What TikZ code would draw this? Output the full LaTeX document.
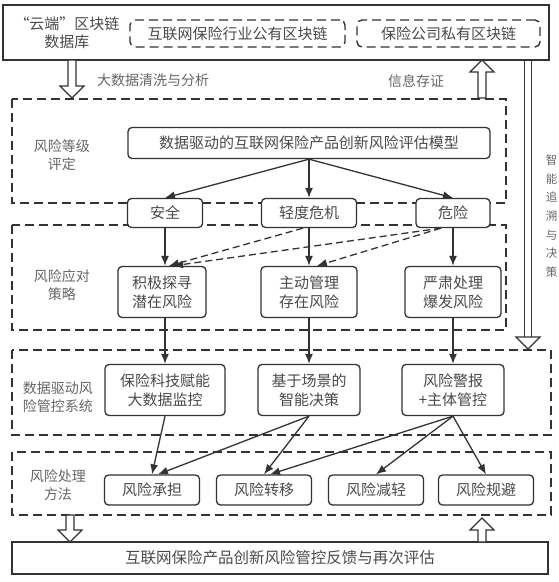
\documentclass[tikz,border=0pt]{standalone}
\usepackage{fontspec}
\newfontfamily\cjk{Noto Sans CJK SC}
\usetikzlibrary{arrows.meta,calc}
\definecolor{ln}{HTML}{333333}
\definecolor{tx}{HTML}{4A4A4A}
\definecolor{lb}{HTML}{666666}
\tikzset{
  box/.style={draw=ln,fill=white,line width=1.3pt,rounded corners=4pt,align=center,text=tx,font=\cjk\fontsize{15}{19}\selectfont,inner sep=0pt},
  dbox/.style={draw=ln,line width=1.4pt,dash pattern=on 9pt off 5pt},
  dnode/.style={draw=ln,fill=white,line width=1.4pt,dash pattern=on 9pt off 5pt,rounded corners=5pt,text=tx,font=\cjk\fontsize{15}{19}\selectfont,inner sep=0pt},
  lab/.style={align=center,text=lb,font=\cjk\fontsize{14}{18}\selectfont,inner sep=0pt},
  arr/.style={draw=ln,line width=1.3pt,-{Latex[length=10pt,width=8pt]}},
  darr/.style={draw=ln,line width=1.3pt,dash pattern=on 7pt off 4pt,-{Latex[length=10pt,width=8pt]}},
  hol/.style={draw=ln,line width=1.2pt,fill=white,line join=miter},
}
\begin{document}
\begin{tikzpicture}[x=1pt,y=-1pt]
\useasboundingbox (0,0) rectangle (559,582);
\clip (0,0) rectangle (559,582);
% top box
\draw[ln,line width=1.3pt] (3,5) rectangle (549,60);
\node[lab,text=tx,font=\cjk\fontsize{15}{18}\selectfont] (cloud) at (67,33) {“云端”区块链\\数据库};
\node[dnode,minimum width=215pt,minimum height=27pt] (pub) at (237.5,33.5) {互联网保险行业公有区块链};
\node[dnode,minimum width=183pt,minimum height=27pt] (pri) at (448.5,33.5) {保险公司私有区块链};
% hollow arrows top
\draw[hol] (68,60) -- (76,60) -- (76,86) -- (84,86) -- (72,98) -- (60,86) -- (68,86) -- cycle;
\node[lab,anchor=west] (clean) at (97,80) {大数据清洗与分析};
\draw[hol] (478,98) -- (486,98) -- (486,72) -- (494,72) -- (482,60) -- (470,72) -- (478,72) -- cycle;
\node[lab] (store) at (416,81) {信息存证};
% double arrow right
\draw[ln,line width=1.2pt] (524.5,60) -- (524.5,337) (531.5,60) -- (531.5,337);
\draw[hol] (516,337) -- (540,337) -- (528,349) -- cycle;
\foreach \c [count=\i] in {智,能,追,溯,与,决,策}
  \node[lab,font=\cjk\fontsize{11.5}{12}\selectfont] (v\i) at (551.5,{160+18.7*(\i-1)}) {\c};
% dashed frames
\draw[dbox] (12,99) rectangle (506,203);
\draw[dbox] (12,225) rectangle (506,330);
\draw[dbox] (12,350) rectangle (551,435);
\draw[dbox] (12,452) rectangle (551,515);
\node[lab] (la) at (62,155) {风险等级\\评定};
\node[lab] (lb) at (62,285) {风险应对\\策略};
\node[lab] (lc) at (58,397) {数据驱动风\\险管控系统};
\node[lab] (ld) at (58,485) {风险处理\\方法};
% nodes
\node[box,minimum width=362pt,minimum height=31pt] (m) at (309,143) {数据驱动的互联网保险产品创新风险评估模型};
\node[box,minimum width=75pt,minimum height=29pt] (l1) at (165,213) {安全};
\node[box,minimum width=95pt,minimum height=29pt] (l2) at (309,213) {轻度危机};
\node[box,minimum width=74pt,minimum height=29pt] (l3) at (453,213) {危险};
\node[box,minimum width=88pt,minimum height=51pt] (s1) at (162,292) {积极探寻\\潜在风险};
\node[box,minimum width=96pt,minimum height=51pt] (s2) at (309,292) {主动管理\\存在风险};
\node[box,minimum width=96pt,minimum height=51pt] (s3) at (453,292) {严肃处理\\爆发风险};
\node[box,minimum width=120pt,minimum height=51pt] (c1) at (165,390) {保险科技赋能\\大数据监控};
\node[box,minimum width=102pt,minimum height=51pt] (c2) at (309,390) {基于场景的\\智能决策};
\node[box,minimum width=102pt,minimum height=51pt] (c3) at (453,390) {风险警报\\+主体管控};
\node[box,minimum width=95pt,minimum height=30pt] (d1) at (152,490) {风险承担};
\node[box,minimum width=95pt,minimum height=30pt] (d2) at (264,490) {风险转移};
\node[box,minimum width=95pt,minimum height=30pt] (d3) at (376,490) {风险减轻};
\node[box,minimum width=95pt,minimum height=30pt] (d4) at (486,490) {风险规避};
% bottom
\node[draw=ln,line width=1.3pt,minimum width=536pt,minimum height=32pt,inner sep=0pt,text=tx,font=\cjk\fontsize{15.5}{19}\selectfont] (fb) at (280,558) {互联网保险产品创新风险管控反馈与再次评估};
\draw[hol] (66,515) -- (74,515) -- (74,530) -- (82,530) -- (70,542) -- (58,530) -- (66,530) -- cycle;
\draw[hol] (478,542) -- (486,542) -- (486,530) -- (494,530) -- (482,518) -- (470,530) -- (478,530) -- cycle;
% connectors
\draw[arr] (m.south) -- (l1.north);
\draw[arr] (m.south) -- (l2.north);
\draw[arr] (m.south) -- (l3.north);
\draw[arr] (l1.south) -- ($(s1.north)+(3,0)$);
\draw[arr] (l2.south) -- (s2.north);
\draw[arr] (l3.south) -- (s3.north);
\draw[darr] ($(l2.south)+(-6,0)$) -- ($(s1.north)+(7,0)$);
\draw[darr] ($(l3.south)+(-12,0)$) -- ($(s1.north)+(11,0)$);
\draw[darr] ($(l3.south)+(-12,0)$) -- ($(s2.north)+(8,0)$);
\draw[arr] ($(s1.south)+(3,0)$) -- (c1.north);
\draw[arr] (s2.south) -- (c2.north);
\draw[arr] (s3.south) -- (c3.north);
\draw[arr] (c1.south) -- (d1.north);
\draw[arr] (c2.south) -- ($(d1.north)+(6,0)$);
\draw[arr] (c2.south) -- (d2.north);
\draw[arr] (c3.south) -- ($(d2.north)+(6,0)$);
\draw[arr] (c3.south) -- (d3.north);
\draw[arr] (c3.south) -- (d4.north);
\end{tikzpicture}
\end{document}
